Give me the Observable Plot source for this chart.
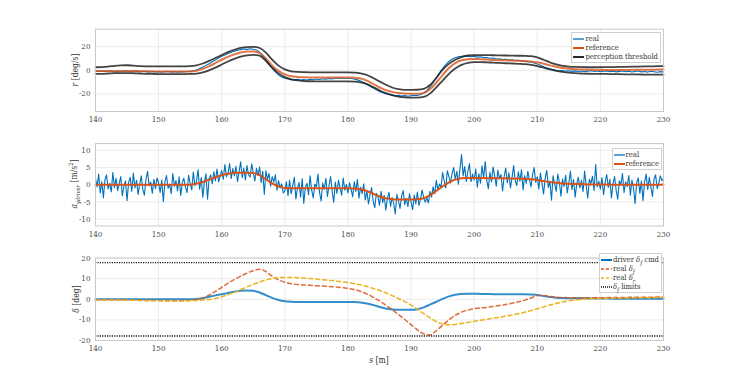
<!DOCTYPE html>
<html><head><meta charset="utf-8">
<script src="https://cdn.jsdelivr.net/npm/d3@7"></script>
<script src="https://cdn.jsdelivr.net/npm/@observablehq/plot@0.6"></script>
<style>
body{margin:0;background:#fff;}
#wrap{position:relative;width:733px;height:382px;background:#fff;font-family:"DejaVu Serif Condensed","DejaVu Serif",serif;color:#262626;overflow:hidden}
.leg{position:absolute;background:#fff;border:1px solid #cfcfcf;font-size:7.6px;padding:1px 2px 1px 1px;color:#333}
.row{display:flex;align-items:center;height:9px;white-space:nowrap;line-height:9px;overflow:visible}
.row svg{margin-right:1px;flex:none}
.lab{position:absolute;font-size:8.5px;white-space:nowrap;color:#333;line-height:10px}
.rot{transform:translate(-50%,-50%) rotate(-90deg)}
.ctr{transform:translate(-50%,-50%)}
i{font-style:italic}
sub,sup{line-height:0;font-size:5.8px}
</style></head><body><div id="wrap"></div>
<script>
// ---------- data ----------
const xTicks = [140,150,160,170,180,190,200,210,220,230];
const rTicks = [-20,0,20];
const aTicks = [-10,-5,0,5,10];
const dTicks = [-20,-10,0,10,20];
const rDomain = [-35,35];
const aDomain = [-12,12];
const dDomain = [-20,20];

// sampling positions s [m]
const s1 = d3.range(140, 230.5, 1);
const s05 = d3.range(0, 181).map(i => 140 + i*0.5);
const s025 = d3.range(0, 361).map(i => 140 + i*0.25);

// panel 1: yaw rate r [deg/s]
const rReference = [
 -0.5,-0.5,-0.6,-0.7,-0.7,-0.6,-0.6,-0.7,-0.8,-0.9,
 -1.0,-1.0,-1.0,-1.0,-1.0,-0.9,-0.3,1.2,3.5,6.2,
 9.0,11.5,13.6,15.2,16.0,16.0,14.8,10.0,4.0,-0.5,
 -3.5,-5.0,-5.6,-5.9,-6.0,-6.0,-6.0,-6.0,-6.0,-6.0,
 -6.1,-6.3,-7.0,-8.8,-11.5,-14.5,-16.8,-18.3,-19.3,-19.8,
 -20.0,-20.0,-19.2,-16.0,-10.5,-4.0,2.0,6.2,8.5,9.5,
 9.7,9.5,9.2,8.8,8.6,8.5,8.3,8.1,7.8,7.5,
 6.8,5.6,4.2,3.0,2.0,1.4,1.0,0.7,0.5,0.4,
 0.3,0.3,0.3,0.3,0.3,0.4,0.4,0.5,0.5,0.6,0.7];
const rUpper = [
 2.6,2.8,3.2,3.8,4.2,4.3,4.0,3.6,3.4,3.3,
 3.3,3.3,3.3,3.3,3.4,3.6,4.3,5.8,8.0,10.5,
 13.0,15.5,17.5,19.0,19.8,20.0,19.0,15.0,9.0,4.0,
 0.8,-0.8,-1.4,-1.6,-1.7,-1.7,-1.7,-1.7,-1.7,-1.7,
 -1.7,-1.9,-2.5,-4.0,-6.5,-9.4,-12.3,-14.6,-16.0,-16.6,
 -16.6,-16.5,-15.8,-12.5,-6.5,0.5,5.5,9.0,11.3,12.6,
 13.0,13.0,12.9,12.8,12.7,12.6,12.5,12.4,12.3,12.0,
 11.0,9.0,6.8,5.0,3.8,3.2,2.9,2.7,2.6,2.6,
 2.6,2.7,2.8,2.9,3.0,3.1,3.2,3.3,3.4,3.5,3.5];
const rLower = [
 -3.1,-3.0,-2.7,-2.4,-2.3,-2.3,-2.5,-2.8,-3.0,-3.1,
 -3.2,-3.2,-3.2,-3.2,-3.2,-3.1,-2.8,-1.8,0.0,2.3,
 4.9,7.5,9.7,11.6,12.8,13.2,12.4,8.0,2.0,-2.6,
 -5.8,-7.6,-8.6,-9.1,-9.3,-9.4,-9.4,-9.4,-9.4,-9.4,
 -9.4,-9.6,-10.3,-11.8,-14.3,-17.0,-19.4,-21.0,-22.3,-23.0,
 -23.2,-23.2,-22.6,-19.8,-14.5,-8.8,-3.0,1.5,4.6,6.4,
 7.0,7.0,6.8,6.5,6.3,6.0,5.8,5.5,5.2,4.6,
 3.6,2.2,0.8,-0.4,-1.3,-2.0,-2.4,-2.7,-2.9,-3.0,
 -3.0,-3.1,-3.2,-3.3,-3.4,-3.5,-3.5,-3.6,-3.6,-3.6,-3.6];
const rReal = [
 -0.3,-1.2,-0.6,-1.0,-0.8,-0.4,-1.1,-0.7,-0.9,-0.5,
 -0.8,-1.2,-0.6,-0.9,-1.3,-0.8,-1.1,-1.5,-0.9,-1.4,
 -1.1,-1.6,-1.2,-1.0,-1.5,-1.2,-1.6,-1.1,-1.4,-1.0,
 -0.9,-0.4,0.3,1.4,2.8,4.2,5.6,7.3,8.8,10.4,
 11.9,13.0,14.3,15.4,16.3,17.1,17.6,18.1,17.8,18.3,
 17.9,17.2,15.4,12.6,9.1,5.3,1.8,-1.3,-3.9,-5.6,
 -6.8,-7.4,-7.9,-8.1,-7.7,-8.3,-7.9,-8.2,-7.6,-8.0,
 -7.4,-7.8,-7.1,-7.5,-6.9,-7.3,-6.6,-7.0,-6.4,-6.9,
 -6.5,-7.0,-7.3,-8.1,-9.0,-10.4,-11.8,-13.5,-15.0,-16.6,
 -17.9,-19.0,-19.9,-20.6,-21.1,-21.6,-21.3,-21.9,-21.5,-22.0,
 -21.6,-21.2,-21.4,-20.6,-19.5,-17.2,-14.1,-10.4,-6.3,-2.2,
 1.6,4.9,7.5,9.4,10.7,11.6,12.0,12.3,12.1,11.6,
 11.9,11.2,11.5,10.8,10.9,10.2,10.5,9.6,9.9,9.1,
 9.4,8.8,9.0,8.3,8.6,7.9,8.1,7.4,7.2,6.3,
 5.4,4.3,3.1,2.2,1.3,0.6,0.1,-0.3,-0.2,-0.6,
 -0.4,-0.9,-0.5,-1.0,-0.6,-1.1,-0.7,-0.4,-1.0,-0.6,
 -1.2,-0.8,-0.5,-1.1,-0.7,-1.3,-0.9,-0.5,-1.2,-0.8,
 -1.4,-0.9,-0.6,-1.3,-1.0,-1.5,-0.8,-1.2,-1.6,-1.1,
 -1.4];

// panel 2: lateral acceleration [m/s^2]
const aReference = [
 0,0,0,0,0,0,0,0,0,0,
 0,0,0,0,0,0.05,0.3,0.8,1.5,2.2,
 2.8,3.2,3.5,3.5,3.5,3.4,2.8,1.6,0.4,-0.5,
 -0.9,-1.0,-1.0,-1.0,-1.0,-1.0,-1.0,-1.0,-1.0,-1.0,
 -1.0,-1.1,-1.3,-1.8,-2.6,-3.4,-3.9,-4.2,-4.3,-4.3,
 -4.3,-4.2,-3.9,-3.0,-1.8,-0.5,0.7,1.5,1.9,2.0,
 2.0,2.0,1.9,1.9,1.9,1.9,1.8,1.8,1.7,1.6,
 1.4,1.1,0.8,0.6,0.4,0.3,0.2,0.2,0.1,0.1,
 0.1,0.1,0,0,0,0,0,0,0,0,0.1];
const aReal = [
 1.8,-0.6,3.1,-2.4,0.9,-3.8,1.5,2.9,-1.2,0.4,
 -2.1,3.6,-0.8,1.9,-1.7,0.3,2.4,-3.2,-0.5,1.1,
 -4.6,0.7,2.2,-1.9,3.4,-0.9,1.3,-2.8,0.2,2.6,
 -1.4,-3.0,1.7,3.9,-0.3,0.8,-2.5,1.6,-1.1,2.0,
 0.5,-2.2,1.4,-4.9,0.9,2.7,-1.0,0.1,-2.6,3.3,
 -0.4,1.2,-1.8,2.3,-3.1,0.6,1.9,-0.7,-2.3,2.8,
 0.4,-1.5,3.7,-0.2,1.0,4.4,-1.3,2.1,-3.6,0.7,
 3.2,-4.2,1.8,2.9,0.3,3.8,1.1,4.6,0.8,2.5,
 4.2,1.6,5.9,2.3,3.4,6.2,1.8,4.7,2.6,5.4,
 0.9,3.8,6.7,2.1,4.9,1.4,5.6,3.0,2.2,6.1,
 3.5,1.1,4.8,2.7,5.2,0.6,3.9,-2.8,4.1,1.5,
 3.3,-0.4,2.4,0.8,2.9,-1.6,1.2,-0.9,0.3,-2.4,
 -1.8,0.9,-3.2,1.4,-2.6,-0.3,2.2,-4.1,-1.0,0.7,
 -3.6,1.8,-5.4,-0.8,0.4,-2.9,2.6,-1.5,-3.8,0.2,
 -0.6,3.1,-2.2,-4.7,0.5,-1.3,1.9,-3.4,-0.2,2.4,
 -1.9,-5.1,0.8,-2.5,1.3,-0.9,-3.0,2.0,-1.6,0.1,
 -2.4,0.6,-1.3,-3.5,0.9,-2.0,1.5,-3.9,-0.7,-2.6,
 0.3,-4.4,-1.8,-5.6,-2.9,-0.8,-4.8,-6.7,-2.5,-3.4,
 -6.0,-1.9,-5.2,-3.1,-7.4,-4.0,-2.2,-6.3,-3.7,-5.5,
 -8.5,-2.8,-4.6,-6.9,-3.3,-1.7,-5.8,-3.9,-6.4,-2.6,
 -4.9,-7.2,-3.0,-5.6,-2.1,-6.0,-4.2,-1.5,-3.7,-5.1,
 -3.8,-5.3,-1.9,-3.6,-0.6,-2.6,1.3,-1.5,0.2,-0.7,
 3.6,1.1,-0.9,4.1,2.4,0.5,3.3,5.0,1.6,3.9,
 0.2,4.7,8.8,2.6,5.3,1.0,3.8,6.1,0.9,3.1,
 1.4,4.6,-0.7,3.2,0.5,5.5,2.0,6.8,1.2,-1.1,
 3.7,0.8,5.2,2.6,-0.4,4.3,1.8,3.0,-1.8,2.4,
 4.9,0.6,3.5,-0.9,2.1,5.6,1.3,-0.2,3.8,1.0,
 4.4,-1.5,2.7,0.4,3.9,1.6,-0.6,2.9,5.0,0.7,
 2.3,-1.2,3.4,0.5,-2.7,1.9,4.2,-0.8,1.1,-4.5,
 2.6,0.3,-1.9,3.1,0.8,-3.3,1.7,-0.5,2.8,-2.4,
 0.6,3.9,-1.4,1.5,-3.6,0.2,2.2,-0.9,1.3,-2.0,
 4.0,-0.3,-3.9,1.6,0.4,2.5,-1.7,5.9,-0.6,1.0,
 -1.3,2.1,-2.9,0.7,3.0,-0.8,1.6,-3.8,0.3,2.4,
 -1.6,-4.2,1.2,0.0,3.3,-2.2,0.9,-0.5,2.7,-3.0,
 1.4,-1.0,-5.5,0.6,2.0,-2.5,1.1,-4.6,0.8,3.1,
 -1.4,2.2,-0.6,-3.4,1.7,2.9,-1.1,0.5,2.6,1.2,
 1.8];

// panel 3: steering angles [deg]
const dCmd = [
 0,0,0,0,0,0,0,0,0,0,
 0,0,0,0,0,0,0.1,0.5,1.2,1.9,
 2.5,3.1,3.7,4.1,4.3,4.1,3.3,2.0,0.7,-0.3,
 -0.9,-1.2,-1.3,-1.3,-1.3,-1.3,-1.3,-1.3,-1.3,-1.3,
 -1.3,-1.3,-1.5,-2.0,-2.8,-3.7,-4.5,-4.9,-5.1,-5.1,
 -5.1,-4.8,-3.9,-2.6,-1.2,0.2,1.4,2.2,2.6,2.7,
 2.7,2.6,2.6,2.5,2.5,2.5,2.4,2.4,2.4,2.3,
 2.1,1.6,1.1,0.8,0.6,0.5,0.5,0.5,0.4,0.4,
 0.4,0.4,0.3,0.3,0.3,0.3,0.3,0.3,0.3,0.3,0.3];
const dFront = [
 -0.3,-0.3,-0.2,-0.3,-0.4,-0.4,-0.5,-0.5,-0.6,-0.6,
 -0.6,-0.7,-0.7,-0.7,-0.6,-0.5,-0.2,0.6,2.0,3.8,
 5.8,7.8,9.6,11.2,12.7,13.9,14.6,13.5,11.2,9.4,
 8.3,7.6,7.2,7.0,6.8,6.6,6.4,6.2,6.0,5.7,
 5.3,4.7,3.8,2.6,1.0,-0.8,-2.8,-5.0,-7.4,-9.8,
 -12.3,-14.8,-16.8,-17.3,-15.2,-12.6,-10.0,-7.8,-6.2,-5.2,
 -4.6,-4.2,-3.9,-3.5,-3.0,-2.5,-1.9,-1.2,-0.4,0.6,
 1.8,1.8,1.4,1.1,0.9,0.8,0.7,0.7,0.7,0.8,
 0.8,0.8,0.9,0.9,0.9,1.0,1.0,1.0,1.0,1.1,1.1];
const dRear = [
 -0.3,-0.3,-0.3,-0.4,-0.4,-0.5,-0.5,-0.6,-0.6,-0.7,
 -0.7,-0.8,-0.8,-0.8,-0.8,-0.7,-0.6,-0.4,-0.1,0.4,
 1.2,2.2,3.4,4.7,6.0,7.2,8.4,9.4,10.1,10.5,
 10.6,10.6,10.5,10.3,10.1,9.8,9.5,9.2,8.9,8.5,
 8.1,7.6,7.0,6.2,5.3,4.3,3.1,1.8,0.4,-1.1,
 -2.8,-4.8,-7.0,-9.0,-10.8,-12.0,-12.4,-12.2,-11.7,-11.2,
 -10.7,-10.2,-9.7,-9.2,-8.7,-8.2,-7.6,-7.0,-6.3,-5.5,
 -4.6,-3.7,-2.8,-2.0,-1.3,-0.7,-0.3,0.0,0.2,0.3,
 0.4,0.5,0.5,0.6,0.6,0.7,0.7,0.8,0.8,0.9,0.9];
const dLimits = [17.8, -17.8];

// ---------- drawing ----------
const pts = (xs, ys) => xs.map((s, i) => ({s, v: ys[i]}));
const wrap = document.getElementById("wrap");
const C = {blue: "#0072BD", orange: "#D95319", yellow: "#EDB120", black: "#141414"};

function panel({top, h, mt, mb, yDomain, yTicks, marks}) {
  const svg = Plot.plot({
    width: 733, height: h, marginLeft: 95, marginRight: 70, marginTop: mt, marginBottom: mb,
    style: {background: "transparent", fontFamily: "'DejaVu Serif Condensed', 'DejaVu Serif', serif", fontSize: "8px", color: "#4a4a4a", overflow: "visible"},
    x: {domain: [140, 230], ticks: xTicks, tickFormat: d => String(d), tickSize: 0, tickPadding: 5, label: null},
    y: {domain: yDomain, ticks: yTicks, tickFormat: d => String(d), tickSize: 0, tickPadding: 5, label: null},
    marks: [
      Plot.ruleX(xTicks, {stroke: "#e6e6e6", strokeWidth: 0.8}),
      Plot.ruleY(yTicks, {stroke: "#e6e6e6", strokeWidth: 0.8}),
      ...marks,
      Plot.frame({stroke: "#c8c8c8"})
    ]
  });
  svg.style.position = "absolute";
  svg.style.left = "0px";
  svg.style.top = top + "px";
  wrap.appendChild(svg);
}

panel({top: 0, h: 128, mt: 28.65, mb: 17, yDomain: rDomain, yTicks: rTicks, marks: [
  Plot.line(pts(s05, rReal), {x: "s", y: "v", stroke: C.blue, strokeWidth: 1.1}),
  Plot.line(pts(s1, rReference), {x: "s", y: "v", stroke: C.orange, strokeWidth: 2, strokeOpacity: 0.8, curve: "monotone-x"}),
  Plot.line(pts(s1, rUpper), {x: "s", y: "v", stroke: C.black, strokeWidth: 1.8, strokeOpacity: 0.8, curve: "monotone-x"}),
  Plot.line(pts(s1, rLower), {x: "s", y: "v", stroke: C.black, strokeWidth: 1.8, strokeOpacity: 0.8, curve: "monotone-x"})
]});

panel({top: 128, h: 115, mt: 15.1, mb: 17.5, yDomain: aDomain, yTicks: aTicks, marks: [
  Plot.line(pts(s025, aReal), {x: "s", y: "v", stroke: C.blue, strokeWidth: 1.1}),
  Plot.line(pts(s1, aReference), {x: "s", y: "v", stroke: C.orange, strokeWidth: 2, curve: "monotone-x"})
]});

panel({top: 243, h: 139, mt: 14.6, mb: 42, yDomain: dDomain, yTicks: dTicks, marks: [
  Plot.line(pts(s1, dCmd), {x: "s", y: "v", stroke: C.blue, strokeWidth: 2, strokeOpacity: 0.8, curve: "monotone-x"}),
  Plot.line(pts(s1, dFront), {x: "s", y: "v", stroke: C.orange, strokeWidth: 1.5, strokeDasharray: "4,3", strokeOpacity: 0.85, curve: "monotone-x"}),
  Plot.line(pts(s1, dRear), {x: "s", y: "v", stroke: C.yellow, strokeWidth: 1.5, strokeDasharray: "4,3", curve: "monotone-x"}),
  Plot.ruleY(dLimits, {stroke: C.black, strokeWidth: 1.4, strokeDasharray: "1.2,1.2"})
]});

// ---------- labels ----------
function label(html, x, y, cls) {
  const d = document.createElement("div");
  d.className = "lab " + cls;
  d.style.left = x + "px"; d.style.top = y + "px";
  d.innerHTML = html;
  wrap.appendChild(d);
}
label("<i>r</i> [deg/s]", 75, 70, "rot");
label("<i>a</i><sub><i>ydriver</i></sub> [m/s<sup>2</sup>]", 74, 184, "rot");
label("<i>δ</i> [deg]", 76, 299, "rot");
label("<i>s</i> [m]", 379, 360, "ctr");

// ---------- legends ----------
function sample(color, w, dash) {
  return `<svg width="11" height="6"><line x1="0" y1="3" x2="11" y2="3" stroke="${color}" stroke-width="${w}" ${dash ? `stroke-dasharray="${dash}"` : ""}/></svg>`;
}
function legend(rightEdge, top, rows) {
  const d = document.createElement("div");
  d.className = "leg";
  d.style.right = (733 - rightEdge) + "px";
  d.style.top = top + "px";
  d.innerHTML = rows.map(([c, w, dash, t]) => `<div class="row">${sample(c, w, dash)}<span>${t}</span></div>`).join("");
  wrap.appendChild(d);
}
legend(661, 32, [[C.blue, 1.3, null, "real"], [C.orange, 2, null, "reference"], [C.black, 1.8, null, "perception threshold"]]);
legend(662, 148, [[C.blue, 1.3, null, "real"], [C.orange, 2, null, "reference"]]);
legend(662, 253, [[C.blue, 2, null, "driver <i>δ<sub>f</sub></i> cmd"],
                  [C.orange, 1.5, "3,2", "real <i>δ<sub>f</sub></i>"],
                  [C.yellow, 1.5, "3,2", "real <i>δ<sub>r</sub></i>"],
                  [C.black, 1.3, "1,1", "<i>δ<sub>f</sub></i> limits"]]);
</script></body></html>
